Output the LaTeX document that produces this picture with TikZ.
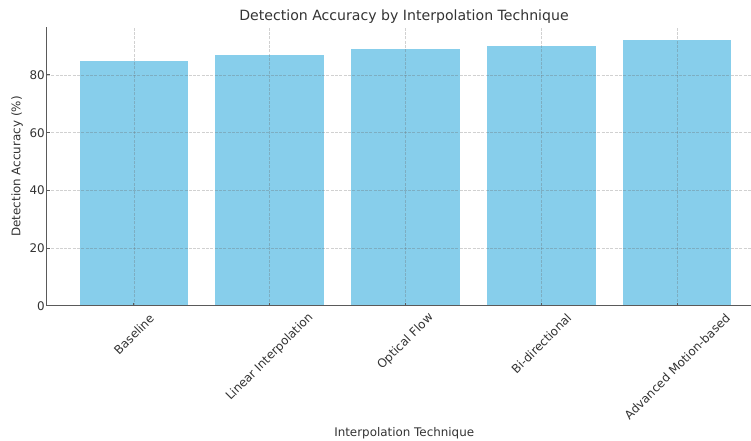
\documentclass[tikz,border=0pt]{standalone}
\usepackage{fontspec}
\setmainfont{DejaVu Sans}
\definecolor{barblue}{HTML}{87CEEB}
\definecolor{axisgray}{HTML}{5A5A5A}
\definecolor{txtgray}{HTML}{333333}

\begin{document}
\begin{tikzpicture}[x=1bp, y=1bp,
    bar/.style={fill=barblue, draw=none},
    gridline/.style={draw=black!60, draw opacity=0.3, line width=0.7bp, dash pattern=on 3bp off 1.3bp},
    spine/.style={draw=axisgray, line width=1bp},
    ticklabel/.style={font=\fontsize{11.9bp}{14bp}\selectfont, text=txtgray, inner sep=0pt},
    titlelabel/.style={font=\fontsize{14.1bp}{17bp}\selectfont, text=txtgray, inner sep=0pt}]
    \useasboundingbox (0,0) rectangle (751,441);

    \begin{scope}[shift={(133.9bp,135bp)}, x=135.8bp, y=2.8875bp]
        % bars
        \foreach \i/\v in {0/85,1/87,2/89,3/90,4/92}
            \fill[bar] (\i-0.4,0) rectangle (\i+0.4,\v);

        % grid
        \foreach \v in {20,40,60,80}
            \draw[gridline] (-0.64,\v) -- (4.6,\v);
        \foreach \i in {0,...,4}
            \draw[gridline] (\i,0) -- (\i,96.6);

        % axes and ticks
        \coordinate (top) at (-0.64,96.6);
        \coordinate (orig) at (-0.64,0);
        \coordinate (right) at (4.6,0);
        \draw[spine] (top) -- (orig) -- (right);
        \foreach \i in {0,...,4}
            \draw[spine] (\i,0) -- ++(0,3bp);
        \foreach \v in {20,40,60,80}
            \draw[spine] (-0.64,\v) -- ++(3bp,0);
        \foreach \v in {0,20,...,80}
            \node[ticklabel, anchor=east, xshift=-2bp] (y\v) at (-0.64,\v) {\v};

        % x tick labels
        \foreach \i/\d/\t in {0/28.2/Baseline,1/51.2/Linear Interpolation,2/35.6/Optical Flow,
                              3/37.8/Bi-directional,4/60.5/Advanced Motion-based}
            \node[ticklabel, rotate=45] (x\i) at ([yshift=-\d bp]\i,0) {\t};
    \end{scope}

    \node[titlelabel, anchor=base] (title) at (404,420.7) {Detection Accuracy by Interpolation Technique};
    \node[ticklabel, anchor=base] (xlabel) at (404.2,4.1) {Interpolation Technique};
    \node[ticklabel, anchor=base, rotate=90] (ylabel) at (20.3,274.5) {Detection Accuracy (\%)};
\end{tikzpicture}
\end{document}
